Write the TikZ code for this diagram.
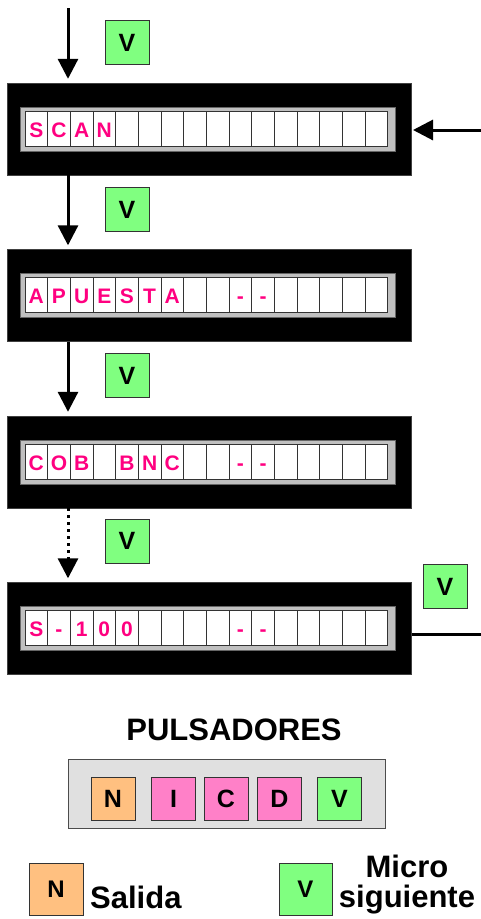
\documentclass[tikz,border=0pt]{standalone}
\usepackage{fontspec}
\setmainfont{Liberation Sans}
\usetikzlibrary{arrows.meta}

\definecolor{keygreen}{HTML}{80FF80}
\definecolor{keyorange}{HTML}{FFC080}
\definecolor{keypink}{HTML}{FF80C8}
\definecolor{lcdpink}{HTML}{FF0080}
\definecolor{panelgray}{HTML}{E0E0E0}
\definecolor{framegray}{HTML}{C0C0C0}

\tikzset{
    lcd/.style={fill=black, draw=black!75, minimum width=404pt, minimum height=92pt, inner sep=0pt},
    lcdframe/.style={fill=framegray, draw=black!60, line width=0.6pt},
    lcdcell/.style={fill=white, draw=black!80, line width=0.8pt},
    lcdchar/.style={text=lcdpink, anchor=base, inner sep=0pt, text height=15pt, text depth=0pt, font=\fontsize{21}{21}\selectfont\bfseries},
    key/.style={draw=black!80, line width=0.8pt, minimum width=44pt, minimum height=44pt, inner sep=0pt, font=\fontsize{25}{25}\selectfont\bfseries},
    flow/.style={line width=3pt, -{Triangle[width=20pt,length=20pt]}},
    big/.style={font=\fontsize{31}{30}\selectfont\bfseries, inner sep=0pt}
}

\begin{document}
\begin{tikzpicture}[x=1pt,y=-1pt]
    \useasboundingbox (0,0) rectangle (481,919);

    \foreach \i/\ytop/\chars in {1/83/{0/S,1/C,2/A,3/N},
                                 2/249.5/{0/A,1/P,2/U,3/E,4/S,5/T,6/A,9/-,10/-},
                                 3/416/{0/C,1/O,2/B,4/B,5/N,6/C,9/-,10/-},
                                 4/582.5/{0/S,1/-,2/1,3/0,4/0,9/-,10/-}} {
        \node[lcd] (lcd\i) at (209.3,\ytop+46) {};
        \draw[lcdframe] (20,\ytop+24) rectangle (395,\ytop+68);
        \foreach \k in {0,...,15}
            \draw[lcdcell] (25+\k*22.67,\ytop+28) rectangle ++(22.67,35);
        \foreach \k/\c in \chars
            \node[lcdchar] at (36.3+\k*22.67,\ytop+54) {\c};
    }

    \node[key, fill=keygreen] (v1) at (127,42.5) {V};
    \node[key, fill=keygreen] (v2) at (127,209.5) {V};
    \node[key, fill=keygreen] (v3) at (127,375.5) {V};
    \node[key, fill=keygreen] (v4) at (127,541) {V};
    \node[key, fill=keygreen] (vout) at (445,586.5) {V};

    \coordinate (top) at (68,8);
    \coordinate (feed) at (481,130);
    \coordinate (exit) at (481,634);
    \draw[flow, shorten >=4pt] (top) -- (top |- lcd1.north);
    \draw[flow, shorten >=4pt] (top |- lcd1.south) -- (top |- lcd2.north);
    \draw[flow, shorten >=4pt] (top |- lcd2.south) -- (top |- lcd3.north);
    \draw[flow, shorten >=4pt, dash pattern=on 3pt off 4pt] (top |- lcd3.south) -- (top |- lcd4.north);
    \draw[flow, shorten >=1.5pt] (feed) -- (feed -| lcd1.east);
    \draw[line width=3pt] (exit -| lcd4.east) -- (exit);

    \node[big, anchor=base] (title) at (234,740) {PULSADORES};
    \draw[fill=panelgray, draw=black!70, line width=0.8pt] (68,759) rectangle (385,828);
    \node[key, fill=keyorange, minimum height=43pt] (bn) at (113,798.5) {N};
    \node[key, fill=keypink, minimum height=43pt] (bi) at (173.5,798.5) {I};
    \node[key, fill=keypink, minimum height=43pt] (bc) at (226,798.5) {C};
    \node[key, fill=keypink, minimum height=43pt] (bd) at (279.5,798.5) {D};
    \node[key, fill=keygreen, minimum height=43pt] (bv) at (339.5,798.5) {V};

    \node[key, fill=keyorange, minimum width=54pt, minimum height=52pt, font=\fontsize{24}{24}\selectfont\bfseries] (legn) at (56,889) {N};
    \node[big, anchor=base west] (salida) at (90,908) {Salida};
    \node[key, fill=keygreen, minimum width=53pt, minimum height=52pt, font=\fontsize{24}{24}\selectfont\bfseries] (legv) at (305.5,889) {V};
    \node[big, anchor=base, align=center] (micro) at (407,907) {Micro\\siguiente};
\end{tikzpicture}
\end{document}
